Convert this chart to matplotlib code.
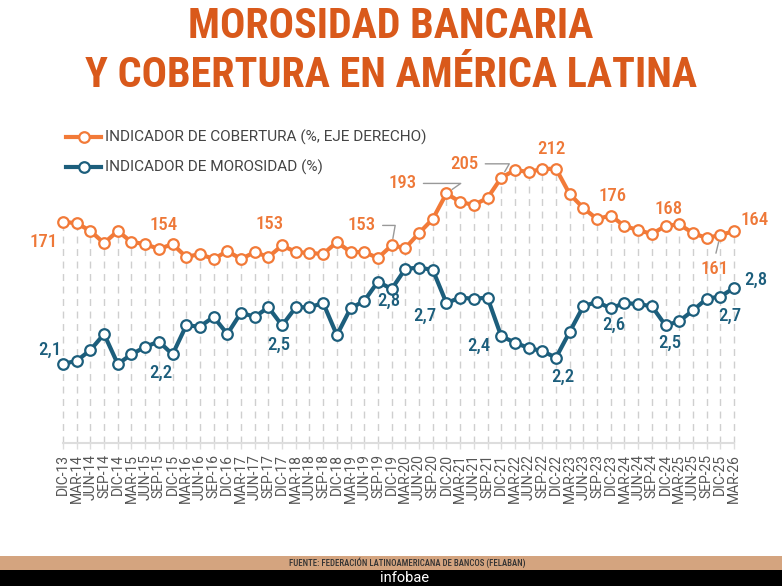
import matplotlib.pyplot as plt
import matplotlib.font_manager as fm
from matplotlib.lines import Line2D
from matplotlib.patches import Rectangle

# ========================================
# Data
# ========================================

QUARTERS = [
    "DIC-13", "MAR-14", "JUN-14", "SEP-14", "DIC-14", "MAR-15", "JUN-15", "SEP-15",
    "DIC-15", "MAR-16", "JUN-16", "SEP-16", "DIC-16", "MAR-17", "JUN-17", "SEP-17",
    "DIC-17", "MAR-18", "JUN-18", "SEP-18", "DIC-18", "MAR-19", "JUN-19", "SEP-19",
    "DIC-19", "MAR-20", "JUN-20", "SEP-20", "DIC-20", "MAR-21", "JUN-21", "SEP-21",
    "DIC-21", "MAR-22", "JUN-22", "SEP-22", "DIC-22", "MAR-23", "JUN-23", "SEP-23",
    "DIC-23", "MAR-24", "JUN-24", "SEP-24", "DIC-24", "MAR-25", "JUN-25", "SEP-25",
    "DIC-25", "MAR-26",
]

# indicador de cobertura (%, eje derecho)
COBERTURA = [
    171, 170.2, 164.1, 154.8, 164.1, 155.6, 154.1, 150.2,
    154, 144.1, 146.4, 142.5, 148.7, 142.5, 147.9, 144.1,
    153, 147.9, 147.2, 146.4, 155.6, 147.9, 147.9, 143.3,
    153, 151.0, 162.5, 173.3, 193, 186.4, 184.1, 189.5,
    205, 211.0, 209.5, 211.8, 212, 192.5, 181.8, 173.3,
    176, 167.9, 164.8, 161.8, 168, 169.2, 162.5, 158.7,
    161, 164,
]

# indicador de morosidad (%)
MOROSIDAD = [
    2.10, 2.13, 2.23, 2.38, 2.10, 2.19, 2.26, 2.31,
    2.19, 2.46, 2.45, 2.54, 2.38, 2.58, 2.54, 2.63,
    2.46, 2.63, 2.63, 2.67, 2.37, 2.62, 2.69, 2.87,
    2.80, 2.99, 3.00, 2.98, 2.67, 2.72, 2.71, 2.72,
    2.36, 2.30, 2.25, 2.22, 2.16, 2.40, 2.64, 2.68,
    2.62, 2.67, 2.66, 2.64, 2.46, 2.50, 2.60, 2.71,
    2.73, 2.81,
]

# labelled points: index, offset in pixels (dx, dy)
COB_LABELS = [(0, -19, -20), (8, -9, 19), (16, -13, 21), (24, -30, 20), (28, -44, 10),
              (32, -37, 14), (36, -5, 20), (40, 2, 20), (44, 3, 17), (48, -6, -34),
              (49, 21, 11)]
COB_LEADERS = {24: "angle,angleA=0,angleB=80,rad=0",
               28: "angle,angleA=0,angleB=35,rad=0",
               32: "angle,angleA=0,angleB=60,rad=0",
               48: "arc3,rad=0"}
MOR_LABELS = [(0, -13, 14), (8, -12, -18), (16, -3, -19), (24, -3, -12), (28, -22, -13),
              (32, -22, -10), (36, 7, -19), (40, 3, -16), (44, 4, -17), (48, 10, -19),
              (49, 22, 8)]

# ========================================
# Style
# ========================================

ORANGE = "#F27A38"
ORANGE_TXT = "#EE7838"
TITLE_COL = "#D9591B"
BLUE = "#1C5E7C"
GRID = "#CFCFCF"

# condensed face if one is there, plain Roboto otherwise
avail = {f.name for f in fm.fontManager.ttflist}
COND = next((n for n in ["Roboto Condensed", "Liberation Sans Narrow"] if n in avail), "Roboto")
SHRINK = 1.0 if COND != "Roboto" else 0.8
NARROW = [COND, "DejaVu Sans"]
plt.rcParams["font.family"] = ["Roboto", "DejaVu Sans"]

W, H = 782, 586
fig = plt.figure(figsize=(W / 100, H / 100), dpi=100)
ax = fig.add_axes([56.15 / W, 1 - 443 / H, 684.7 / W, 303 / H])
ax2 = ax.twinx()
ax.set_zorder(ax2.get_zorder() + 1)
ax.patch.set_visible(False)

x = list(range(len(QUARTERS)))

ax.set_xlim(-0.5, len(QUARTERS) - 0.5)
ax.set_ylim(1.362, 4.193)
ax2.set_ylim(1.0, 234.1)

# dashed drop lines from the coverage points
ax2.vlines(x, 1.0, COBERTURA, colors=GRID, linewidth=1, linestyles=(0, (5, 4)), zorder=1)

mk = dict(marker="o", markersize=7.6, markerfacecolor="white", markeredgewidth=1.6)
ax2.plot(x, COBERTURA, color=ORANGE, linewidth=3, markeredgecolor=ORANGE, zorder=3, **mk)
ax.plot(x, MOROSIDAD, color=BLUE, linewidth=3, markeredgecolor=BLUE, zorder=3, **mk)

lab_font = dict(family=NARROW, fontsize=13.5 * (0.95 if SHRINK < 1 else 1), fontweight="medium")
for i, dx, dy in COB_LABELS:
    arrow = None
    if i in COB_LEADERS:
        arrow = dict(arrowstyle="-", color="#999999", lw=1,
                     connectionstyle=COB_LEADERS[i], shrinkA=3, shrinkB=5,
                     relpos=(0.5, 1) if dy < 0 else (1, 0.5))
    ax2.annotate(f"{COBERTURA[i]:.0f}", (i, COBERTURA[i]), xytext=(dx, dy),
                 textcoords="offset pixels", ha="center", va="center",
                 color=ORANGE_TXT, arrowprops=arrow, zorder=5, **lab_font)

for i, dx, dy in MOR_LABELS:
    ax.annotate(f"{MOROSIDAD[i]:.1f}".replace(".", ","), (i, MOROSIDAD[i]),
                xytext=(dx, dy), textcoords="offset pixels", ha="center", va="center",
                color=BLUE, zorder=5, **lab_font)

# axes styling
for a in (ax, ax2):
    for side in ("top", "left", "right"):
        a.spines[side].set_visible(False)
    a.set_yticks([])
ax2.spines["bottom"].set_visible(False)
ax.spines["bottom"].set_bounds(0, len(QUARTERS) - 1)
ax.spines["bottom"].set_color("#DDDDDD")
ax.spines["bottom"].set_linewidth(1.5)
ax.set_xticks(x)
ax.set_xticklabels(QUARTERS, rotation=90, fontsize=10, color="#555555")
ax.tick_params(axis="x", length=4, width=1, color="#DDDDDD", pad=4)
ax2.tick_params(axis="x", bottom=False, labelbottom=False)

# title
for yp, line in [(27, "MOROSIDAD BANCARIA"), (76, "Y COBERTURA EN AMÉRICA LATINA")]:
    fig.text(0.5, 1 - yp / H, line, ha="center", va="center",
             family=NARROW, fontsize=30.3 * SHRINK, fontweight="bold", color=TITLE_COL)

# legend
for y, col, txt in [(137, ORANGE, "INDICADOR DE COBERTURA (%, EJE DERECHO)"),
                    (167, BLUE, "INDICADOR DE MOROSIDAD (%)")]:
    yf = 1 - y / H
    fig.add_artist(Line2D([66 / W, 101 / W], [yf, yf], color=col, linewidth=3))
    fig.add_artist(Line2D([84 / W], [yf], color=col, markeredgecolor=col, **mk))
    fig.text(105 / W, yf, txt, ha="left", va="center", fontsize=11.1, color="#444444")

# footer
fig.add_artist(Rectangle((0, 16 / H), 1, 14 / H, transform=fig.transFigure,
                         facecolor="#D4A47F", edgecolor="none"))
fig.add_artist(Rectangle((0, 0), 1, 16 / H, transform=fig.transFigure,
                         facecolor="black", edgecolor="none"))
fig.text(407 / W, 1 - 563 / H, "FUENTE: FEDERACIÓN LATINOAMERICANA DE BANCOS (FELABAN)",
         ha="center", va="center", family=NARROW, fontsize=6.3, fontweight="medium",
         color="#333333")
fig.text(405 / W, 1 - 578 / H, "infobae", ha="center", va="center",
         fontsize=10.5, color="white")

fig.savefig("out.png", dpi=100)
